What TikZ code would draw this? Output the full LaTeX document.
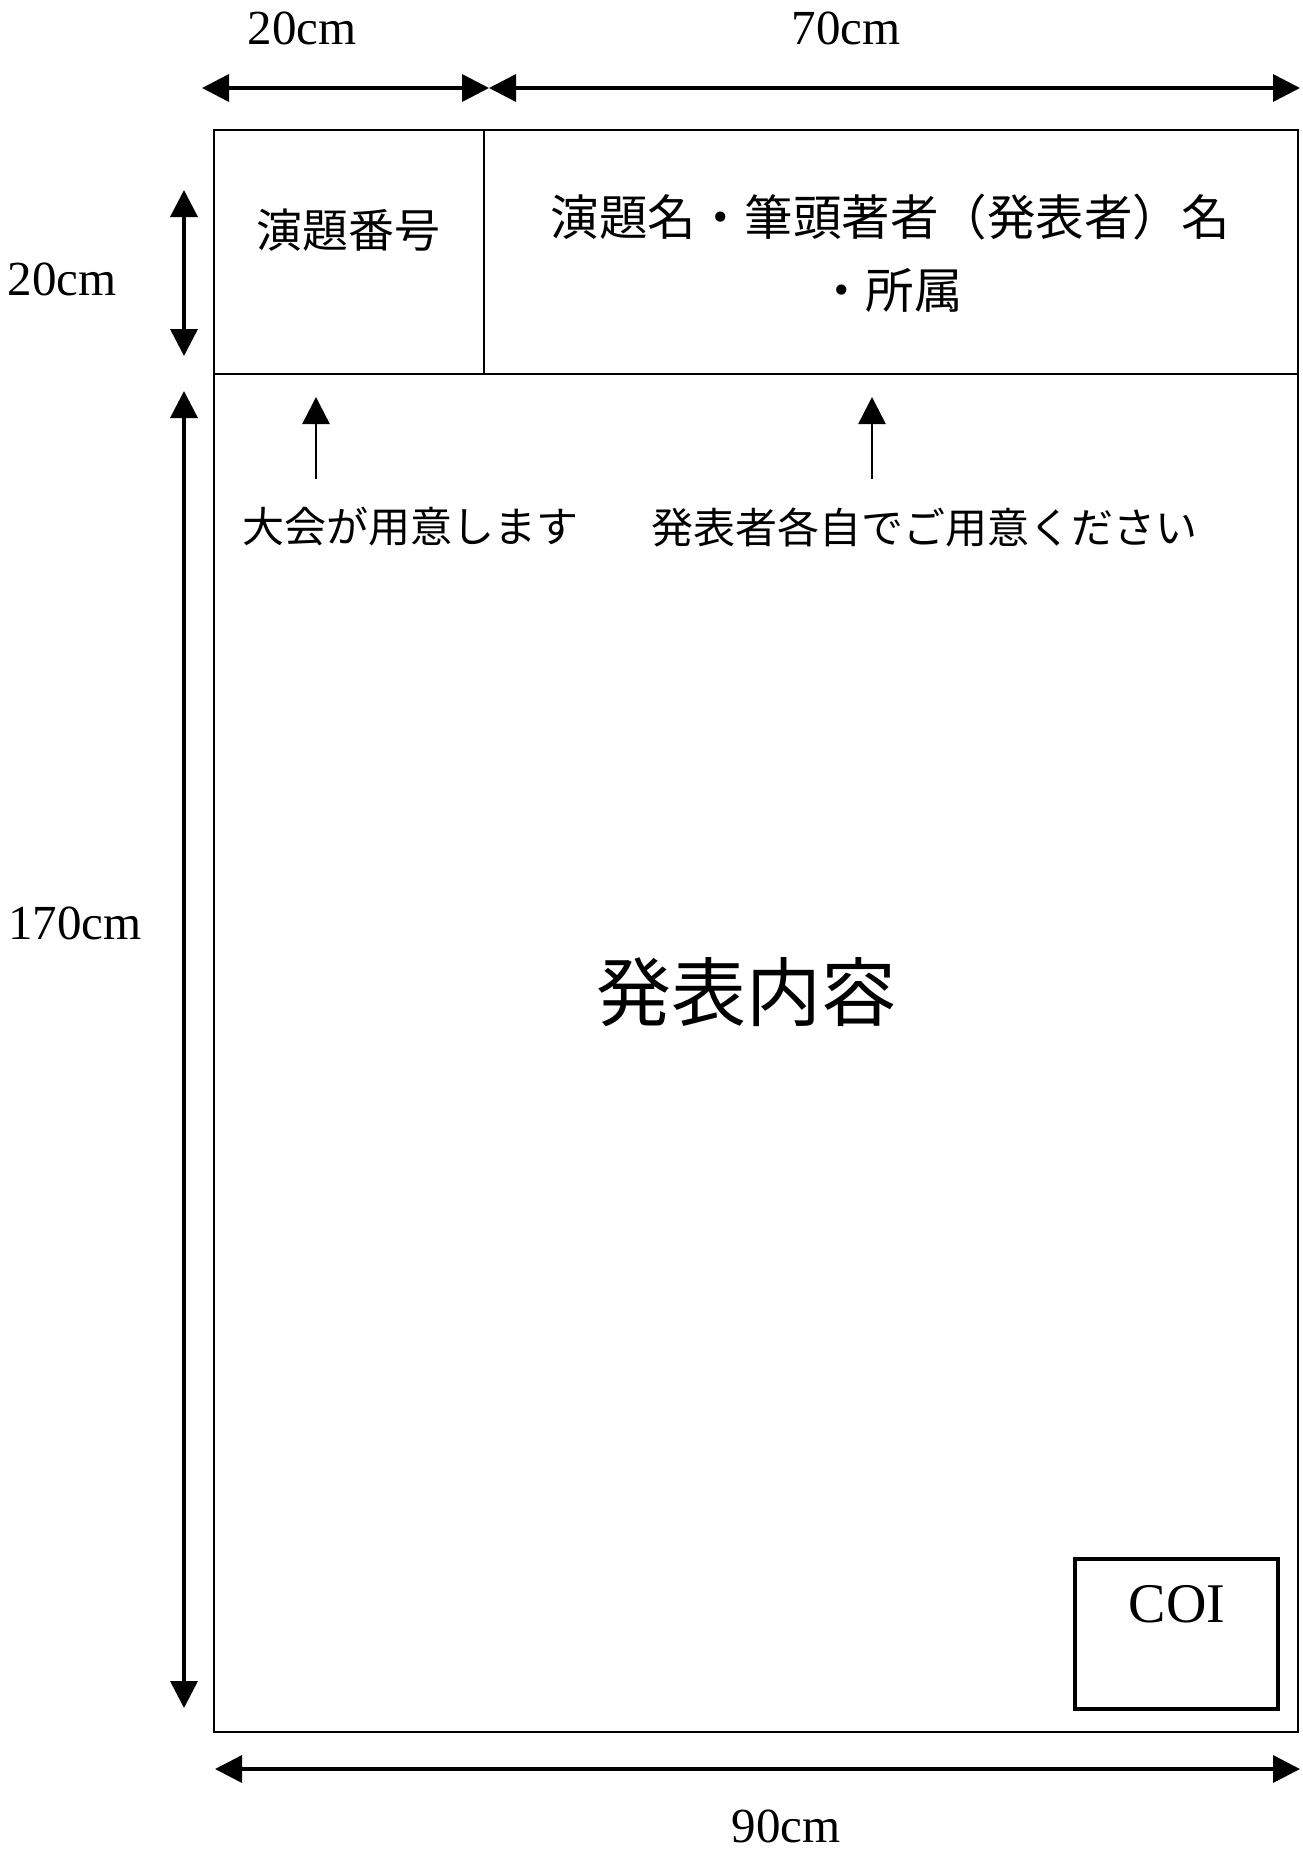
\documentclass[tikz,border=0pt]{standalone}
\usepackage{fontspec}
\setmainfont{Liberation Serif}
\newfontfamily\jp{Noto Sans CJK JP}
\usetikzlibrary{arrows.meta}
\tikzset{
  tip/.tip={Triangle[length=27pt,width=27pt]},
  dimline/.style={line width=3.5pt,tip-tip},
  pointer/.style={line width=2.5pt,-tip},
  dimlabel/.style={inner sep=0pt,font=\fontsize{49}{49}\selectfont},
  jplabel/.style={inner sep=0pt,font=\fontsize{42}{42}\selectfont\jp},
}
\begin{document}
\begin{tikzpicture}[x=1pt,y=-1pt]
      \useasboundingbox (0,0) rectangle (1302,1857);
      \draw[line width=2pt] (214,130) rectangle (1298,1732);
      \draw[line width=2.5pt] (214,374) -- (1298,374);
      \draw[line width=2pt] (484,130) -- (484,374);
      \draw[line width=4pt] (1075,1559) rectangle (1278,1709);
      \draw
        (302,28) node[dimlabel] (wa){20cm}
        (846,28) node[dimlabel] (wb){70cm}
        (62,279) node[dimlabel] (ha){20cm}
        (75,923) node[dimlabel] (hb){170cm}
        (786,1826) node[dimlabel] (wc){90cm}
        (348,230) node[inner sep=0pt,font=\fontsize{46}{46}\selectfont\jp] (num){演題番号}
        (890,253) node[inner sep=0pt,align=center,font=\fontsize{48.5}{73}\selectfont\jp] (title){演題名・筆頭著者（発表者）名\\・所属}
        (410,527) node[jplabel] (host){大会が用意します}
        (924,527) node[jplabel] (self){発表者各自でご用意ください}
        (746,992) node[inner sep=0pt,font=\fontsize{75}{75}\selectfont\jp] (body){発表内容}
        (1177,1604) node[inner sep=0pt,font=\fontsize{56}{56}\selectfont] (coi){COI};
      \coordinate (h0) at (202,88);
      \coordinate (h1) at (489,88);
      \coordinate (h2) at (1300,88);
      \coordinate (v0) at (184,190);
      \coordinate (v1) at (184,356);
      \coordinate (v2) at (184,391);
      \coordinate (v3) at (184,1708);
      \coordinate (b0) at (215,1769);
      \coordinate (b1) at (1300,1769);
      \coordinate (p0) at (316,479);
      \coordinate (p1) at (316,397);
      \coordinate (q0) at (872,479);
      \coordinate (q1) at (872,397);
      \begin{scope}[dimline]
        \draw (h0) to (h1);
        \draw (h1) to (h2);
        \draw (v0) to (v1);
        \draw (v2) to (v3);
        \draw (b0) to (b1);
      \end{scope}
      \begin{scope}[pointer]
        \draw (p0) to (p1);
        \draw (q0) to (q1);
      \end{scope}
    \end{tikzpicture}
\end{document}
